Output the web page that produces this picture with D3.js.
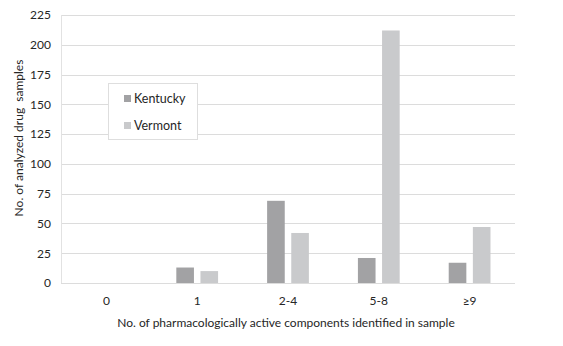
<!DOCTYPE html>
<html>
<head>
<meta charset="utf-8">
<script src="https://cdn.jsdelivr.net/npm/d3@7"></script>
<style>
  body { margin: 0; background: #fff; }
  svg { display: block; font-family: Lato, "Open Sans", sans-serif; }
</style>
</head>
<body>
<div class="chart"></div>
<script>
    const categories = ['0', '1', '2-4', '5-8', '\u22659'];
    const seriesNames = ['Kentucky', 'Vermont'];
    const kentucky = [0, 13, 69, 21, 17];
    const vermont = [0, 10, 42, 212, 47];
    const yTicks = [0, 25, 50, 75, 100, 125, 150, 175, 200, 225];

    const W = 563, H = 346;
    const margin = { top: 15, right: 48, bottom: 63, left: 61 };
    const width = W - margin.left - margin.right;
    const height = H - margin.top - margin.bottom;

    const colors = { Kentucky: '#a2a2a4', Vermont: '#c9cacc' };
    const textColor = '#262626';

    const svg = d3.select('.chart').append('svg')
        .attr('width', W).attr('height', H);

    const group = svg.append('g')
        .attr('transform', 'translate(' + margin.left + ', ' + margin.top + ')');

    const x = d3.scaleBand().domain(categories).range([0, width]);
    const xInner = d3.scaleBand().domain(seriesNames)
        .range([x.bandwidth() * 0.27, x.bandwidth() * 0.73]).paddingInner(0.27);
    const y = d3.scaleLinear().domain([0, 225]).range([height, 0]);

    // gridlines
    group.append('g').selectAll('line').data(yTicks)
        .enter().append('line')
        .attr('x1', 0).attr('x2', width)
        .attr('y1', function (d) { return Math.round(y(d)) + 0.5; })
        .attr('y2', function (d) { return Math.round(y(d)) + 0.5; })
        .style('stroke', '#dcdcdc').style('stroke-width', 1.2);

    // left axis line
    group.append('line')
        .attr('x1', 0.5).attr('x2', 0.5)
        .attr('y1', 0).attr('y2', height)
        .style('stroke', '#e2e2e2');

    // y tick labels
    const yAxis = group.append('g')
        .call(d3.axisLeft(y).tickValues(yTicks).tickSize(0).tickPadding(10));
    yAxis.select('.domain').remove();
    yAxis.selectAll('text')
        .style('font-family', 'Lato, "Open Sans", sans-serif')
        .style('font-size', '12px').style('fill', textColor);

    // x tick labels
    const xAxis = group.append('g')
        .attr('transform', 'translate(0, ' + height + ')')
        .call(d3.axisBottom(x).tickSize(0).tickPadding(13));
    xAxis.select('.domain').remove();
    xAxis.selectAll('text')
        .style('font-family', 'Lato, "Open Sans", sans-serif')
        .style('font-size', '12px').style('fill', textColor);

    // bars
    const rows = categories.map(function (c, i) {
        return { category: c, values: [
            { name: 'Kentucky', value: kentucky[i] },
            { name: 'Vermont', value: vermont[i] }
        ] };
    });

    const catGroups = group.selectAll('g.cat').data(rows)
        .enter().append('g').attr('class', 'cat')
        .attr('transform', function (d) { return 'translate(' + x(d.category) + ', 0)'; });

    catGroups.selectAll('rect')
        .data(function (d) { return d.values.filter(function (v) { return v.value > 0; }); })
        .enter().append('rect')
        .attr('x', function (d) { return xInner(d.name); })
        .attr('width', xInner.bandwidth())
        .attr('y', function (d) { return y(d.value); })
        .attr('height', function (d) { return height - y(d.value); })
        .style('fill', function (d) { return colors[d.name]; });

    // legend
    const legend = svg.append('g').attr('transform', 'translate(108, 83)');
    legend.append('rect')
        .attr('x', 0.5).attr('y', 0.5).attr('width', 89).attr('height', 56)
        .style('fill', '#fff').style('stroke', '#dedede');

    const legendItems = legend.selectAll('g.item').data(seriesNames)
        .enter().append('g').attr('class', 'item')
        .attr('transform', function (d, i) { return 'translate(16, ' + (12 + i * 27) + ')'; });
    legendItems.append('rect')
        .attr('width', 7).attr('height', 7)
        .style('fill', function (d) { return colors[d]; });
    legendItems.append('text')
        .attr('x', 10).attr('y', 7.5)
        .style('font-size', '12.5px').style('fill', textColor)
        .text(function (d) { return d; });

    // axis titles
    svg.append('text')
        .attr('x', margin.left + width / 2 - 2).attr('y', 327)
        .attr('text-anchor', 'middle')
        .style('font-size', '12px').style('fill', textColor)
        .text('No. of pharmacologically active components identified in sample');

    svg.append('text')
        .attr('transform', 'translate(23, 138) rotate(-90)')
        .attr('text-anchor', 'middle')
        .style('font-size', '12px').style('fill', textColor)
        .style('white-space', 'pre')
        .text('No. of analyzed drug  samples');
</script>
</body>
</html>
